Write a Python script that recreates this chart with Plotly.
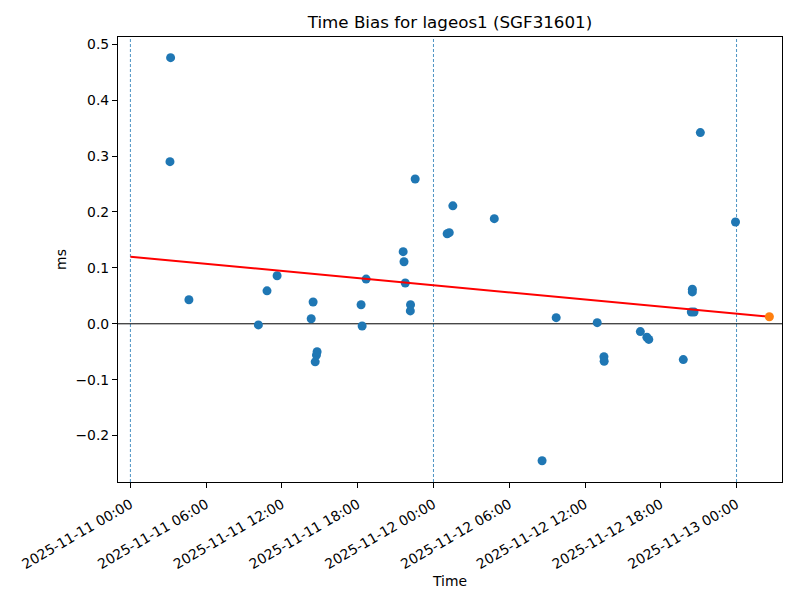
import plotly.graph_objects as go

title = "Time Bias for lageos1 (SGF31601)"
times = [
    "2025-11-11 03:11", "2025-11-11 03:08", "2025-11-11 04:38", "2025-11-11 10:08",
    "2025-11-11 10:49", "2025-11-11 11:37", "2025-11-11 14:19", "2025-11-11 14:28",
    "2025-11-11 14:38", "2025-11-11 14:44", "2025-11-11 14:47", "2025-11-11 18:16",
    "2025-11-11 18:21", "2025-11-11 18:40", "2025-11-11 21:36", "2025-11-11 21:40",
    "2025-11-11 21:46", "2025-11-11 22:10", "2025-11-11 22:11", "2025-11-11 22:33",
    "2025-11-12 01:05", "2025-11-12 01:15", "2025-11-12 01:32", "2025-11-12 04:49",
    "2025-11-12 08:36", "2025-11-12 09:43", "2025-11-12 12:58", "2025-11-12 13:30",
    "2025-11-12 13:31", "2025-11-12 16:23", "2025-11-12 16:54", "2025-11-12 17:03",
    "2025-11-12 19:47", "2025-11-12 20:25", "2025-11-12 20:38", "2025-11-12 20:30",
    "2025-11-12 20:30", "2025-11-12 21:08", "2025-11-12 23:55",
]
bias_ms = [
    0.476, 0.290, 0.043, -0.002,
    0.059, 0.086, 0.009, 0.039,
    -0.068, -0.056, -0.050, 0.034,
    -0.004, 0.080, 0.129, 0.111,
    0.073, 0.023, 0.034, 0.259,
    0.161, 0.163, 0.211, 0.188,
    -0.245, 0.011, 0.002, -0.059,
    -0.067, -0.014, -0.024, -0.028,
    -0.064, 0.021, 0.021, 0.062,
    0.057, 0.342, 0.182,
]
trend_times = ["2025-11-11 00:00", "2025-11-13 02:36"]
trend_vals = [0.120, 0.0125]
pred_time = ["2025-11-13 02:36"]
pred_val = [0.0125]
day_lines = ["2025-11-11 00:00", "2025-11-12 00:00", "2025-11-13 00:00"]
tick_vals = ["2025-11-11 00:00", "2025-11-11 06:00", "2025-11-11 12:00", "2025-11-11 18:00",
             "2025-11-12 00:00", "2025-11-12 06:00", "2025-11-12 12:00", "2025-11-12 18:00",
             "2025-11-13 00:00"]
tick_text = [t for t in tick_vals]

fig = go.Figure()
fig.add_trace(go.Scatter(x=times, y=bias_ms, mode="markers",
                         marker=dict(color="#1f77b4", size=9), showlegend=False))
fig.add_trace(go.Scatter(x=trend_times, y=trend_vals, mode="lines",
                         line=dict(color="red", width=2), showlegend=False))
fig.add_trace(go.Scatter(x=pred_time, y=pred_val, mode="markers",
                         marker=dict(color="#ff7f0e", size=9), showlegend=False))

shapes = []
for d in day_lines:
    shapes.append(dict(type="line", xref="x", yref="paper", x0=d, x1=d, y0=0, y1=1,
                       line=dict(color="#1f77b4", width=0.8, dash="3px,2px"), layer="below"))
shapes.append(dict(type="line", xref="paper", yref="y", x0=0, x1=1, y0=0, y1=0,
                   line=dict(color="black", width=1), layer="below"))

font = "DejaVu Sans"
fig.update_layout(
    width=800, height=600,
    paper_bgcolor="white", plot_bgcolor="white",
    margin=dict(l=118, r=18, t=37, b=118, autoexpand=False),
    title=dict(text=title, x=0.5, xanchor="center", xref="paper",
               y=1 - 22 / 600, yanchor="middle", yref="container",
               font=dict(family=font, size=16.7, color="black")),
    font=dict(family=font, size=13.9, color="black"),
    shapes=shapes,
    xaxis=dict(
        type="date", automargin=False,
        range=["2025-11-10 23:01", "2025-11-13 03:36"],
        tickvals=tick_vals, ticktext=tick_text, tickangle=-30,
        showgrid=False, zeroline=False,
        showline=True, linecolor="black", linewidth=1.1, mirror=True,
        ticks="outside", ticklen=5, tickcolor="black", tickwidth=1.1,
        ticklabelstandoff=3,
        title=dict(text="Time", font=dict(family=font, size=13.9), standoff=5),
        tickfont=dict(family=font, size=13.9),
    ),
    yaxis=dict(
        automargin=False,
        range=[-0.283, 0.513],
        tickvals=[-0.2, -0.1, 0.0, 0.1, 0.2, 0.3, 0.4, 0.5],
        tickformat=".1f",
        showgrid=False, zeroline=False,
        showline=True, linecolor="black", linewidth=1.1, mirror=True,
        ticks="outside", ticklen=5, tickcolor="black", tickwidth=1.1,
        title=dict(text="ms", font=dict(family=font, size=13.9), standoff=5),
        tickfont=dict(family=font, size=13.9),
    ),
)

fig.write_html("out.html", config={"displayModeBar": False},
               post_script="document.body.style.margin='0';document.body.style.overflow='hidden';")
